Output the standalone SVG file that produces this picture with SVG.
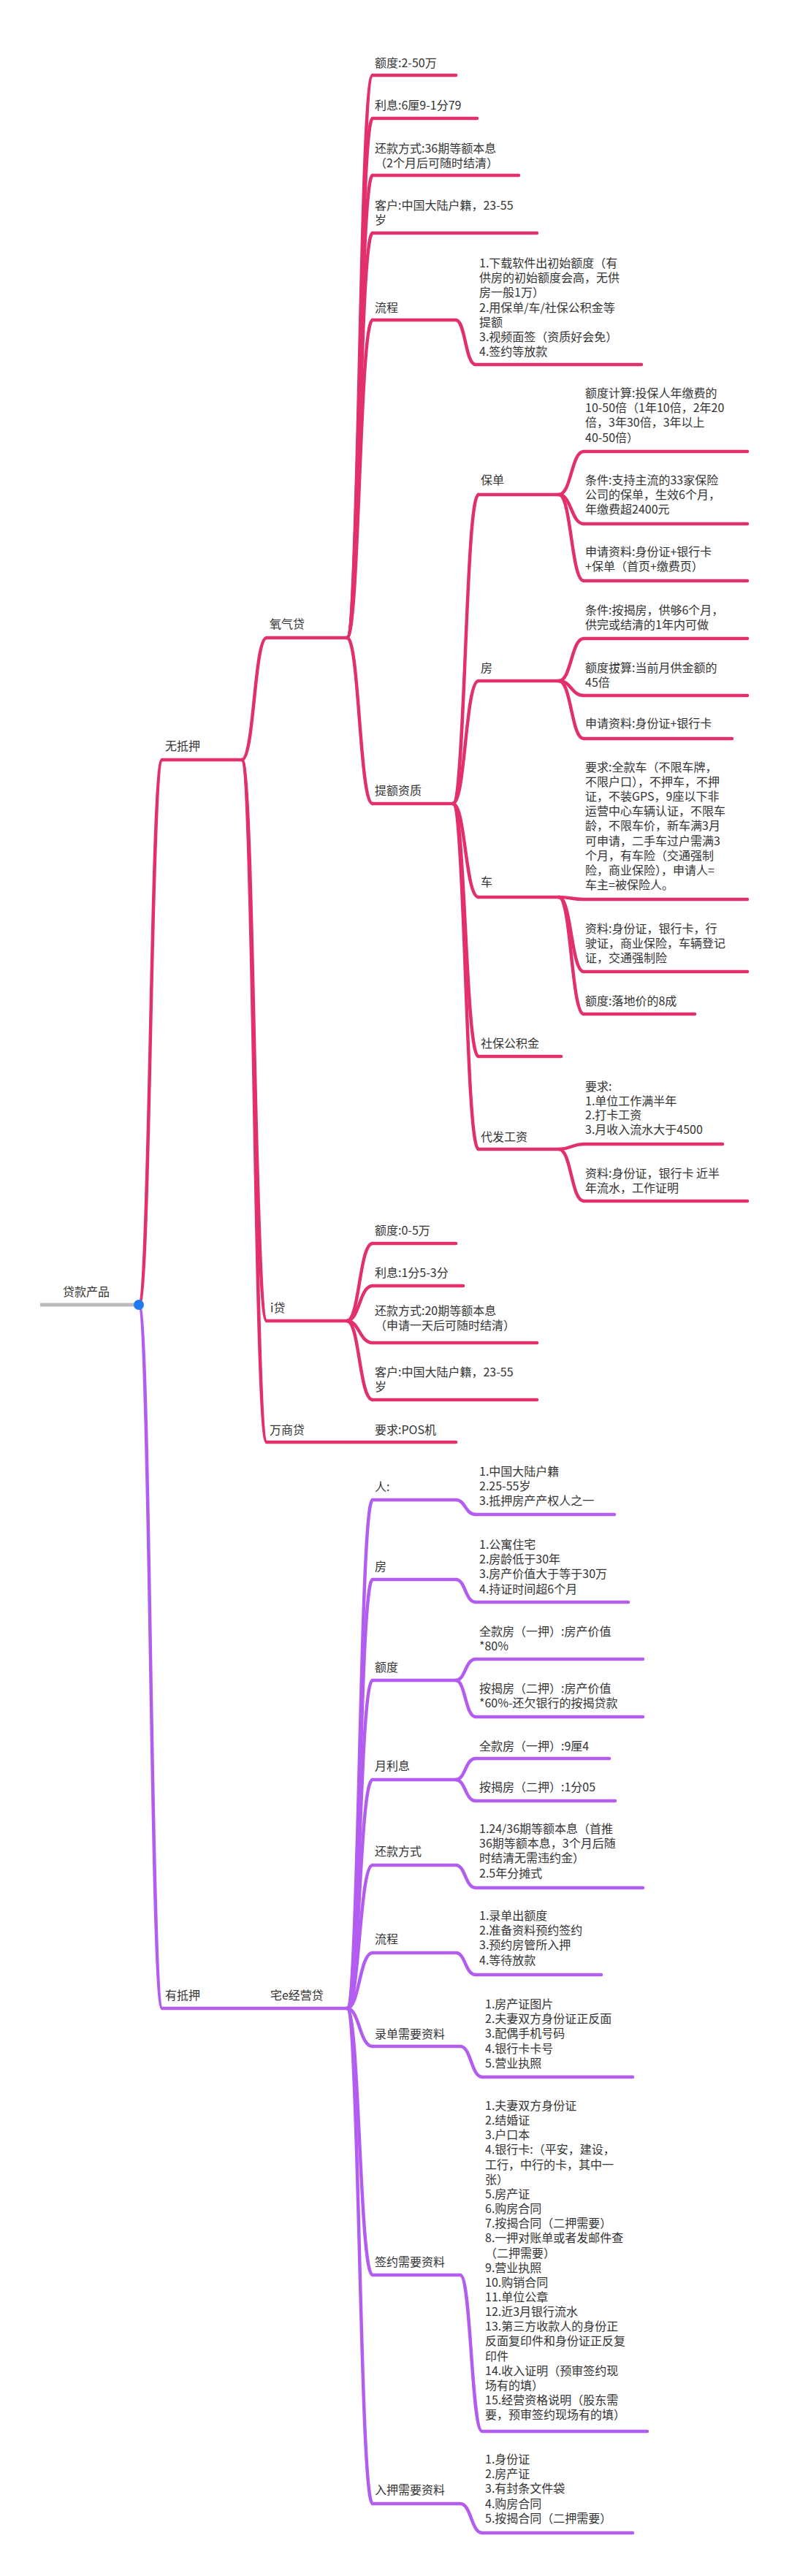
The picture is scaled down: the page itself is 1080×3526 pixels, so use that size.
<svg xmlns="http://www.w3.org/2000/svg" width="1080" height="3526" viewBox="0 0 1080 3526">
<style>
text{font-family:"Noto Sans CJK SC","Liberation Sans",sans-serif;font-size:16px;fill:#333}
.p{stroke:#E2306B;stroke-width:4.5;fill:none;stroke-linecap:round}
.v{stroke:#B35DF0;stroke-width:4.5;fill:none;stroke-linecap:round}
.g{stroke:#BBBBBB;stroke-width:5;fill:none}
</style>
<rect width="1080" height="3526" fill="#fff"/>
<g id="connectors">
<path class="p" d="M190,1786 C206,1786 206,1040 222,1040"/>
<path class="v" d="M190,1786 C206,1786 206,2749 222,2749"/>
<path class="p" d="M331,1040 C348,1040 348,873 365,873"/>
<path class="p" d="M331,1040 C348,1040 348,1808 365,1808"/>
<path class="p" d="M331,1040 C348,1040 348,1974 365,1974"/>
<path class="p" d="M475,873 C492,873 492,103 510,103"/>
<path class="p" d="M475,873 C492,873 492,162 510,162"/>
<path class="p" d="M475,873 C492,873 492,240 510,240"/>
<path class="p" d="M475,873 C492,873 492,319 510,319"/>
<path class="p" d="M475,873 C492,873 492,438 510,438"/>
<path class="p" d="M475,873 C492,873 492,1100 510,1100"/>
<path class="p" d="M624,438 C637,438 637,499 651,499"/>
<path class="p" d="M620,1100 C637,1100 637,677 655,677"/>
<path class="p" d="M620,1100 C637,1100 637,932 655,932"/>
<path class="p" d="M620,1100 C637,1100 637,1228 655,1228"/>
<path class="p" d="M620,1100 C637,1100 637,1446 655,1446"/>
<path class="p" d="M620,1100 C637,1100 637,1573 655,1573"/>
<path class="p" d="M765,677 C782,677 782,618 799,618"/>
<path class="p" d="M765,677 C782,677 782,717 799,717"/>
<path class="p" d="M765,677 C782,677 782,795 799,795"/>
<path class="p" d="M765,932 C782,932 782,874 799,874"/>
<path class="p" d="M765,932 C782,932 782,952 799,952"/>
<path class="p" d="M765,932 C782,932 782,1011 799,1011"/>
<path class="p" d="M765,1228 C782,1228 782,1231 799,1231"/>
<path class="p" d="M765,1228 C782,1228 782,1330 799,1330"/>
<path class="p" d="M765,1228 C782,1228 782,1388 799,1388"/>
<path class="p" d="M765,1573 C782,1573 782,1566 799,1566"/>
<path class="p" d="M765,1573 C782,1573 782,1644 799,1644"/>
<path class="p" d="M475,1808 C492,1808 492,1702 510,1702"/>
<path class="p" d="M475,1808 C492,1808 492,1760 510,1760"/>
<path class="p" d="M475,1808 C492,1808 492,1838 510,1838"/>
<path class="p" d="M475,1808 C492,1808 492,1916 510,1916"/>
<path class="v" d="M475,2749 C492,2749 492,2053 510,2053"/>
<path class="v" d="M475,2749 C492,2749 492,2162 510,2162"/>
<path class="v" d="M475,2749 C492,2749 492,2300 510,2300"/>
<path class="v" d="M475,2749 C492,2749 492,2436 510,2436"/>
<path class="v" d="M475,2749 C492,2749 492,2553 510,2553"/>
<path class="v" d="M475,2749 C492,2749 492,2673 510,2673"/>
<path class="v" d="M475,2749 C492,2749 492,2801 510,2801"/>
<path class="v" d="M475,2749 C492,2749 492,3114 510,3114"/>
<path class="v" d="M475,2749 C492,2749 492,3427 510,3427"/>
<path class="v" d="M624,2053 C637,2053 637,2073 651,2073"/>
<path class="v" d="M624,2162 C637,2162 637,2193 651,2193"/>
<path class="v" d="M624,2300 C637,2300 637,2271 651,2271"/>
<path class="v" d="M624,2300 C637,2300 637,2350 651,2350"/>
<path class="v" d="M624,2436 C637,2436 637,2407 651,2407"/>
<path class="v" d="M624,2436 C637,2436 637,2465 651,2465"/>
<path class="v" d="M624,2553 C637,2553 637,2584 651,2584"/>
<path class="v" d="M624,2673 C637,2673 637,2703 651,2703"/>
<path class="v" d="M630,2801 C645,2801 645,2843 660,2843"/>
<path class="v" d="M630,3114 C645,3114 645,3328 660,3328"/>
<path class="v" d="M630,3427 C645,3427 645,3467 660,3467"/>
</g>
<g id="root"><line class="g" x1="55" y1="1786" x2="190" y2="1786"/><text x="86" y="1774">贷款产品</text><circle cx="190" cy="1786" r="7" fill="#1E7BF0"/></g>
<g id="n-wudiya"><line class="p" x1="222" y1="1040" x2="331" y2="1040"/><text x="226" y="1027">无抵押</text></g>
<g id="n-youdiya"><line class="v" x1="222" y1="2749" x2="475" y2="2749"/><text x="226" y="2737">有抵押</text></g>
<g id="n-yangqi"><line class="p" x1="365" y1="873" x2="475" y2="873"/><text x="369" y="860">氧气贷</text></g>
<g id="n-idai"><line class="p" x1="365" y1="1808" x2="475" y2="1808"/><text x="370" y="1796">i贷</text></g>
<g id="n-wanshang"><line class="p" x1="365" y1="1974" x2="475" y2="1974"/><text x="369" y="1963">万商贷</text></g>
<g id="n-pos"><line class="p" x1="475" y1="1974" x2="624" y2="1974"/><text x="513" y="1963">要求:POS机</text></g>
<g id="n-zhai"><text x="370" y="2737">宅e经营贷</text></g>
<g id="y1"><line class="p" x1="510" y1="103" x2="624" y2="103"/><text x="513" y="92">额度:2-50万</text></g>
<g id="y2"><line class="p" x1="510" y1="162" x2="653" y2="162"/><text x="513" y="150">利息:6厘9-1分79</text></g>
<g id="y3"><line class="p" x1="510" y1="240" x2="710" y2="240"/><text x="513" y="209">还款方式:36期等额本息<tspan x="513" dy="20">（2个月后可随时结清）</tspan></text></g>
<g id="y4"><line class="p" x1="510" y1="319" x2="735" y2="319"/><text x="513" y="287">客户:中国大陆户籍，23-55<tspan x="513" dy="20">岁</tspan></text></g>
<g id="y5"><line class="p" x1="510" y1="438" x2="624" y2="438"/><text x="513" y="427">流程</text></g>
<g id="y5a"><line class="p" x1="651" y1="499" x2="878" y2="499"/><text x="656" y="366">1.下载软件出初始额度（有<tspan x="656" dy="20.2">供房的初始额度会高，无供</tspan><tspan x="656" dy="20.2">房一般1万）</tspan><tspan x="656" dy="20.2">2.用保单/车/社保公积金等</tspan><tspan x="656" dy="20.2">提额</tspan><tspan x="656" dy="20.2">3.视频面签（资质好会免）</tspan><tspan x="656" dy="20.2">4.签约等放款</tspan></text></g>
<g id="y6"><line class="p" x1="510" y1="1100" x2="620" y2="1100"/><text x="513" y="1088">提额资质</text></g>
<g id="b"><line class="p" x1="655" y1="677" x2="765" y2="677"/><text x="658" y="663">保单</text></g>
<g id="b1"><line class="p" x1="799" y1="618" x2="1023" y2="618"/><text x="801" y="544">额度计算:投保人年缴费的<tspan x="801" dy="20.2">10-50倍（1年10倍，2年20</tspan><tspan x="801" dy="20.2">倍，3年30倍，3年以上</tspan><tspan x="801" dy="20.2">40-50倍）</tspan></text></g>
<g id="b2"><line class="p" x1="799" y1="717" x2="1023" y2="717"/><text x="801" y="663">条件:支持主流的33家保险<tspan x="801" dy="20.2">公司的保单，生效6个月，</tspan><tspan x="801" dy="20.2">年缴费超2400元</tspan></text></g>
<g id="b3"><line class="p" x1="799" y1="795" x2="1023" y2="795"/><text x="801" y="761">申请资料:身份证+银行卡<tspan x="801" dy="20.2">+保单（首页+缴费页）</tspan></text></g>
<g id="f"><line class="p" x1="655" y1="932" x2="765" y2="932"/><text x="658" y="920">房</text></g>
<g id="f1"><line class="p" x1="799" y1="874" x2="1023" y2="874"/><text x="801" y="841">条件:按揭房，供够6个月，<tspan x="801" dy="20.2">供完或结清的1年内可做</tspan></text></g>
<g id="f2"><line class="p" x1="799" y1="952" x2="1023" y2="952"/><text x="801" y="920">额度拔算:当前月供金额的<tspan x="801" dy="20.2">45倍</tspan></text></g>
<g id="f3"><line class="p" x1="799" y1="1011" x2="1002" y2="1011"/><text x="801" y="996">申请资料:身份证+银行卡</text></g>
<g id="c"><line class="p" x1="655" y1="1228" x2="765" y2="1228"/><text x="658" y="1213">车</text></g>
<g id="c1"><line class="p" x1="799" y1="1231" x2="1023" y2="1231"/><text x="801" y="1056">要求:全款车（不限车牌，<tspan x="801" dy="20.1">不限户口），不押车，不押</tspan><tspan x="801" dy="20.1">证，不装GPS，9座以下非</tspan><tspan x="801" dy="20.1">运营中心车辆认证，不限车</tspan><tspan x="801" dy="20.1">龄，不限车价，新车满3月</tspan><tspan x="801" dy="20.1">可申请，二手车过户需满3</tspan><tspan x="801" dy="20.1">个月，有车险（交通强制</tspan><tspan x="801" dy="20.1">险，商业保险），申请人=</tspan><tspan x="801" dy="20.1">车主=被保险人。</tspan></text></g>
<g id="c2"><line class="p" x1="799" y1="1330" x2="1023" y2="1330"/><text x="801" y="1277">资料:身份证，银行卡，行<tspan x="801" dy="20.2">驶证，商业保险，车辆登记</tspan><tspan x="801" dy="20.2">证，交通强制险</tspan></text></g>
<g id="c3"><line class="p" x1="799" y1="1388" x2="951" y2="1388"/><text x="801" y="1376">额度:落地价的8成</text></g>
<g id="s"><line class="p" x1="655" y1="1446" x2="768" y2="1446"/><text x="658" y="1434">社保公积金</text></g>
<g id="d"><line class="p" x1="655" y1="1573" x2="765" y2="1573"/><text x="658" y="1562">代发工资</text></g>
<g id="d1"><line class="p" x1="799" y1="1566" x2="989" y2="1566"/><text x="801" y="1493">要求:<tspan x="801" dy="19.7">1.单位工作满半年</tspan><tspan x="801" dy="19.7">2.打卡工资</tspan><tspan x="801" dy="19.7">3.月收入流水大于4500</tspan></text></g>
<g id="d2"><line class="p" x1="799" y1="1644" x2="1023" y2="1644"/><text x="801" y="1612">资料:身份证，银行卡 近半<tspan x="801" dy="20.2">年流水，工作证明</tspan></text></g>
<g id="i1"><line class="p" x1="510" y1="1702" x2="624" y2="1702"/><text x="513" y="1690">额度:0-5万</text></g>
<g id="i2"><line class="p" x1="510" y1="1760" x2="634" y2="1760"/><text x="513" y="1748">利息:1分5-3分</text></g>
<g id="i3"><line class="p" x1="510" y1="1838" x2="735" y2="1838"/><text x="513" y="1800">还款方式:20期等额本息<tspan x="513" dy="20.2">（申请一天后可随时结清）</tspan></text></g>
<g id="i4"><line class="p" x1="510" y1="1916" x2="735" y2="1916"/><text x="513" y="1884">客户:中国大陆户籍，23-55<tspan x="513" dy="20">岁</tspan></text></g>
<g id="z1"><line class="v" x1="510" y1="2053" x2="624" y2="2053"/><text x="513" y="2041">人:</text></g>
<g id="z1a"><line class="v" x1="651" y1="2073" x2="841" y2="2073"/><text x="656" y="2020">1.中国大陆户籍<tspan x="656" dy="20.2">2.25-55岁</tspan><tspan x="656" dy="20.2">3.抵押房产产权人之一</tspan></text></g>
<g id="z2"><line class="v" x1="510" y1="2162" x2="624" y2="2162"/><text x="513" y="2150">房</text></g>
<g id="z2a"><line class="v" x1="651" y1="2193" x2="860" y2="2193"/><text x="656" y="2120">1.公寓住宅<tspan x="656" dy="20.2">2.房龄低于30年</tspan><tspan x="656" dy="20.2">3.房产价值大于等于30万</tspan><tspan x="656" dy="20.2">4.持证时间超6个月</tspan></text></g>
<g id="z3"><line class="v" x1="510" y1="2300" x2="624" y2="2300"/><text x="513" y="2288">额度</text></g>
<g id="z3a"><line class="v" x1="651" y1="2271" x2="880" y2="2271"/><text x="656" y="2239">全款房（一押）:房产价值<tspan x="656" dy="20.2">*80%</tspan></text></g>
<g id="z3b"><line class="v" x1="651" y1="2350" x2="880" y2="2350"/><text x="656" y="2317">按揭房（二押）:房产价值<tspan x="656" dy="20.2">*60%-还欠银行的按揭贷款</tspan></text></g>
<g id="z4"><line class="v" x1="510" y1="2436" x2="624" y2="2436"/><text x="513" y="2423">月利息</text></g>
<g id="z4a"><line class="v" x1="651" y1="2407" x2="834" y2="2407"/><text x="656" y="2396">全款房（一押）:9厘4</text></g>
<g id="z4b"><line class="v" x1="651" y1="2465" x2="842" y2="2465"/><text x="656" y="2452">按揭房（二押）:1分05</text></g>
<g id="z5"><line class="v" x1="510" y1="2553" x2="624" y2="2553"/><text x="513" y="2540">还款方式</text></g>
<g id="z5a"><line class="v" x1="651" y1="2584" x2="880" y2="2584"/><text x="656" y="2509">1.24/36期等额本息（首推<tspan x="656" dy="20.2">36期等额本息，3个月后随</tspan><tspan x="656" dy="20.2">时结清无需违约金）</tspan><tspan x="656" dy="20.2">2.5年分摊式</tspan></text></g>
<g id="z6"><line class="v" x1="510" y1="2673" x2="624" y2="2673"/><text x="513" y="2660">流程</text></g>
<g id="z6a"><line class="v" x1="651" y1="2703" x2="823" y2="2703"/><text x="656" y="2628">1.录单出额度<tspan x="656" dy="20.2">2.准备资料预约签约</tspan><tspan x="656" dy="20.2">3.预约房管所入押</tspan><tspan x="656" dy="20.2">4.等待放款</tspan></text></g>
<g id="z7"><line class="v" x1="510" y1="2801" x2="630" y2="2801"/><text x="513" y="2790">录单需要资料</text></g>
<g id="z7a"><line class="v" x1="660" y1="2843" x2="866" y2="2843"/><text x="664" y="2749">1.房产证图片<tspan x="664" dy="20.2">2.夫妻双方身份证正反面</tspan><tspan x="664" dy="20.2">3.配偶手机号码</tspan><tspan x="664" dy="20.2">4.银行卡卡号</tspan><tspan x="664" dy="20.2">5.营业执照</tspan></text></g>
<g id="z8"><line class="v" x1="510" y1="3114" x2="630" y2="3114"/><text x="513" y="3102">签约需要资料</text></g>
<g id="z8a"><line class="v" x1="660" y1="3328" x2="886" y2="3328"/><text x="664" y="2888">1.夫妻双方身份证<tspan x="664" dy="20.15">2.结婚证</tspan><tspan x="664" dy="20.15">3.户口本</tspan><tspan x="664" dy="20.15">4.银行卡:（平安，建设，</tspan><tspan x="664" dy="20.15">工行，中行的卡，其中一</tspan><tspan x="664" dy="20.15">张）</tspan><tspan x="664" dy="20.15">5.房产证</tspan><tspan x="664" dy="20.15">6.购房合同</tspan><tspan x="664" dy="20.15">7.按揭合同（二押需要）</tspan><tspan x="664" dy="20.15">8.一押对账单或者发邮件查</tspan><tspan x="664" dy="20.15">（二押需要）</tspan><tspan x="664" dy="20.15">9.营业执照</tspan><tspan x="664" dy="20.15">10.购销合同</tspan><tspan x="664" dy="20.15">11.单位公章</tspan><tspan x="664" dy="20.15">12.近3月银行流水</tspan><tspan x="664" dy="20.15">13.第三方收款人的身份正</tspan><tspan x="664" dy="20.15">反面复印件和身份证正反复</tspan><tspan x="664" dy="20.15">印件</tspan><tspan x="664" dy="20.15">14.收入证明（预审签约现</tspan><tspan x="664" dy="20.15">场有的填）</tspan><tspan x="664" dy="20.15">15.经营资格说明（股东需</tspan><tspan x="664" dy="20.15">要，预审签约现场有的填）</tspan></text></g>
<g id="z9"><line class="v" x1="510" y1="3427" x2="630" y2="3427"/><text x="513" y="3414">入押需要资料</text></g>
<g id="z9a"><line class="v" x1="660" y1="3467" x2="866" y2="3467"/><text x="664" y="3372">1.身份证<tspan x="664" dy="20.2">2.房产证</tspan><tspan x="664" dy="20.2">3.有封条文件袋</tspan><tspan x="664" dy="20.2">4.购房合同</tspan><tspan x="664" dy="20.2">5.按揭合同（二押需要）</tspan></text></g>
</svg>
